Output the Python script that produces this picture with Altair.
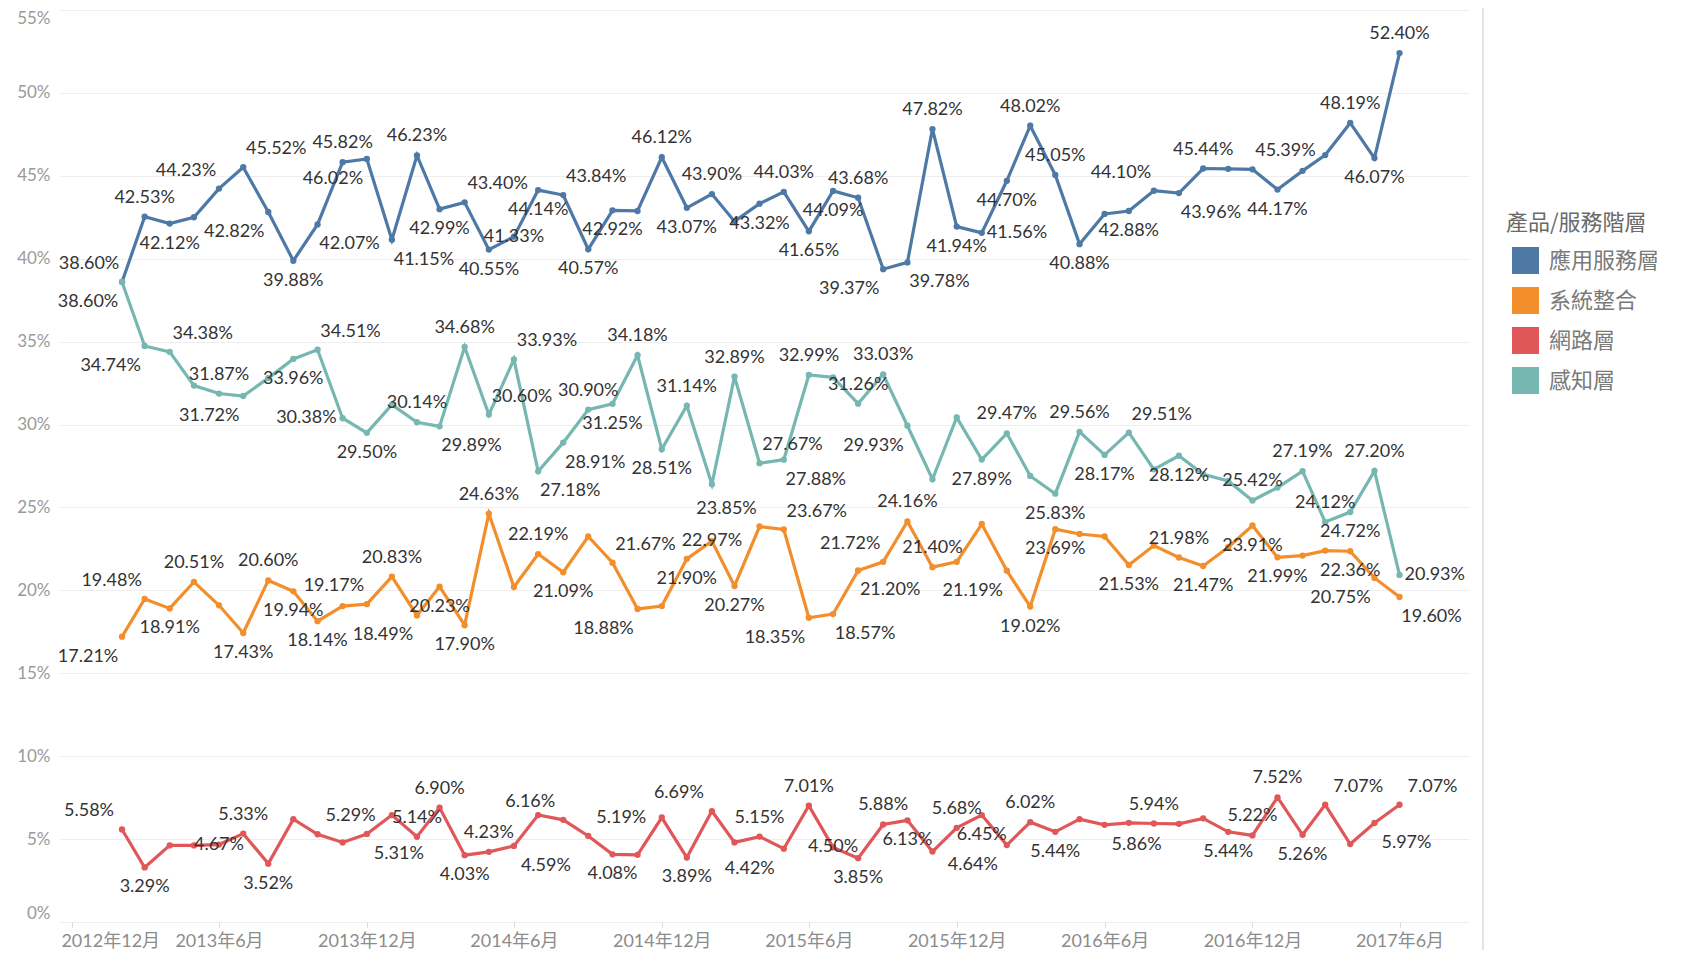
import altair as alt
import pandas as pd

SERIES = ["應用服務層", "系統整合", "網路層", "感知層"]
COLORS = ["#4e79a7", "#f28e2b", "#e15759", "#76b7b2"]

# monthly observations, 2013-02 .. 2017-06
MONTHS = pd.date_range("2013-02-01", "2017-06-01", freq="MS")

APP = [38.60, 42.53, 42.12, 42.50, 44.23, 45.52, 42.82, 39.88, 42.07, 45.82,
       46.02, 41.15, 46.23, 42.99, 43.40, 40.55, 41.33, 44.14, 43.84, 40.57,
       42.92, 42.88, 46.12, 43.07, 43.90, 42.25, 43.32, 44.03, 41.65, 44.09,
       43.68, 39.37, 39.78, 47.82, 41.94, 41.56, 44.70, 48.02, 45.05, 40.88,
       42.70, 42.88, 44.10, 43.96, 45.44, 45.42, 45.39, 44.17, 45.30, 46.25,
       48.19, 46.07, 52.40]
SYS = [17.21, 19.48, 18.91, 20.51, 19.10, 17.43, 20.60, 19.94, 18.14, 19.05,
       19.17, 20.83, 18.49, 20.23, 17.90, 24.63, 20.20, 22.19, 21.09, 23.25,
       21.67, 18.88, 19.05, 21.90, 22.97, 20.27, 23.85, 23.67, 18.35, 18.57,
       21.20, 21.72, 24.16, 21.40, 21.72, 24.00, 21.19, 19.02, 23.69, 23.40,
       23.25, 21.53, 22.70, 21.98, 21.47, 22.60, 23.91, 21.99, 22.10, 22.40,
       22.36, 20.75, 19.60]
NET = [5.58, 3.29, 4.62, 4.62, 4.67, 5.33, 3.52, 6.20, 5.29, 4.80,
       5.31, 6.45, 5.14, 6.90, 4.03, 4.23, 4.59, 6.45, 6.16, 5.19,
       4.08, 4.05, 6.30, 3.89, 6.69, 4.80, 5.15, 4.42, 7.01, 4.50,
       3.85, 5.88, 6.13, 4.25, 5.68, 6.45, 4.64, 6.02, 5.44, 6.20,
       5.86, 5.98, 5.94, 5.92, 6.25, 5.44, 5.22, 7.52, 5.26, 7.07,
       4.70, 5.97, 7.07]
SENSE = [38.60, 34.74, 34.38, 32.35, 31.87, 31.72, 32.80, 33.96, 34.51, 30.38,
         29.50, 31.20, 30.14, 29.89, 34.68, 30.60, 33.93, 27.18, 28.91, 30.90,
         31.25, 34.18, 28.51, 31.14, 26.40, 32.89, 27.67, 27.88, 32.99, 32.85,
         31.26, 33.03, 29.93, 26.70, 30.43, 27.89, 29.47, 26.90, 25.83, 29.56,
         28.17, 29.51, 27.30, 28.12, 27.00, 26.60, 25.42, 26.20, 27.19, 24.12,
         24.72, 27.20, 20.93]

X_TICKS = [(2012, 12), (2013, 6), (2013, 12), (2014, 6), (2014, 12),
           (2015, 6), (2015, 12), (2016, 6), (2016, 12), (2017, 6)]
Y_TICKS = [0, 5, 10, 15, 20, 25, 30, 35, 40, 45, 50, 55]

# ---- styling (not data): where each value label sits around its point ----
# t/b above/below, tl/tr/bl/br diagonal, l/r beside, c on the point, - hidden
LABEL_POS = {
    "應用服務層": ("tl t b - tl tr bl b br t  bl br t b tr b c b tr b  "
              "b - t b t - b t b b  t bl br t b r b t t b  "
              "- b tl br t - tr b - -  t b t"),
    "系統整合": ("bl tl b t - b t b b -  tl t bl b b t - t b -  "
             "tr bl - b c b tl tr bl br  br tl t t - - bl b b -  "
             "- b - t b - b b - -  b bl br"),
    "網路層": ("tl b - - c t b - tr -  br - t t b t br - tl tr  "
            "b - - b tl - t bl t c  b t b - t b bl t b -  "
            "br - t - - b t t b tr  - br tr"),
    "感知層": ("bl bl tr - t bl - b tr l  b - t br t tr tr br br t  "
            "b t b t - t tr br t -  t t bl - - b t - b t  "
            "b tr - b - - t - t t  b t r"),
}
PLACE = {  # align, dx, dy
    "t": ("center", 0, -19),
    "b": ("center", 0, 20),
    "tl": ("center", -33, -18),
    "tr": ("center", 33, -18),
    "bl": ("center", -34, 20),
    "br": ("center", 32, 20),
    "l": ("right", -6, 0),
    "r": ("left", 5, 0),
    "c": ("center", 0, 0),
}
LAT = "Lato, 'Noto Sans CJK TC', sans-serif"
CJK = "'Noto Sans CJK TC', sans-serif"
W, H = 1410, 912

rows = []
for name, vals in zip(SERIES, [APP, SYS, NET, SENSE]):
    pos = LABEL_POS[name].split()
    for m, v, p in zip(MONTHS, vals, pos):
        rows.append({
            "month": m.strftime("%Y-%m-%dT00:00:00"),
            "series": name,
            "value": v,
            "label": "" if p == "-" else f"{v:.2f}%",
            "place": p,
        })
df = pd.DataFrame(rows)

x_enc = alt.X(
    "month:T",
    scale=alt.Scale(domain=[alt.DateTime(year=2012, month=11, date=15),
                            alt.DateTime(year=2017, month=8, date=26)]),
    axis=alt.Axis(
        title=None, values=[alt.DateTime(year=y, month=mo, date=1) for y, mo in X_TICKS],
        format="%Y年%-m月", grid=False, domain=False, ticks=True, tickSize=5,
        tickColor="#d9d9d9", labelFontSize=18, labelColor="#8c8c8c", labelFont=LAT,
        labelPadding=5, labelFlush=20, labelFlushOffset=11, labelOverlap=False,
    ),
)
y_enc = alt.Y(
    "value:Q",
    scale=alt.Scale(domain=[0, 55], nice=False, zero=True),
    axis=alt.Axis(
        title=None, values=Y_TICKS, labelExpr="datum.value + '%'", grid=True,
        gridColor="#eeeeee", domain=False, ticks=False, labelFontSize=17,
        labelColor="#9a9a9a", labelFont=LAT, labelPadding=9, labelFlush=True,
    ),
)
color_scale = alt.Scale(domain=SERIES, range=COLORS)

base = alt.Chart(df).encode(x=x_enc, y=y_enc)

lines = base.mark_line(strokeWidth=3.2).encode(
    color=alt.Color("series:N", scale=color_scale, legend=None),
    detail="series:N",
)
points = base.mark_circle(size=40, opacity=1).encode(
    color=alt.Color(
        "series:N", scale=color_scale,
        legend=alt.Legend(
            title="產品/服務階層", orient="none", legendX=1447, legendY=203,
            symbolType="square", symbolSize=729, symbolStrokeWidth=0,
            symbolOpacity=1, symbolOffset=6, titleFontSize=22, labelFontSize=22,
            titleColor="#6a6a6a", labelColor="#7a7a7a", titleFont=CJK,
            labelFont=CJK, titleFontWeight="normal", rowPadding=13,
            titlePadding=12, labelOffset=10,
        ),
    ),
)

texts = []
for key, (align, dx, dy) in PLACE.items():
    texts.append(
        base.transform_filter(alt.datum.place == key).mark_text(
            align=align, dx=dx, dy=dy, baseline="middle", fontSize=18,
            font=LAT, color="#333333",
        ).encode(text="label:N")
    )

sep = alt.Chart(pd.DataFrame({"k": [0]})).mark_rule(
    color="#dcdcdc", strokeWidth=1.5
).encode(x=alt.value(1424), y=alt.value(-10), y2=alt.value(H + 40))

chart = alt.layer(lines, points, *texts, sep).resolve_legend(
    color="independent"
).properties(
    width=W, height=H,
    autosize=alt.AutoSizeParams(type="none"),
    padding={"left": 51, "top": 2, "right": 195, "bottom": 28},
).configure_view(stroke="transparent")

chart.save("out.html", embed_options={"renderer": "svg", "actions": False})
